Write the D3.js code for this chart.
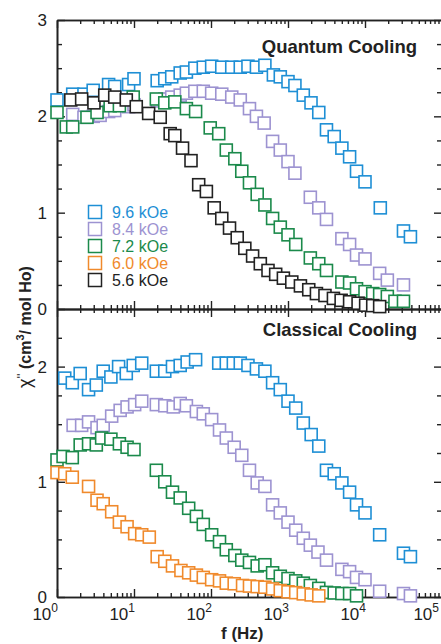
<!DOCTYPE html>
<html><head><meta charset="utf-8">
<script src="https://cdn.jsdelivr.net/npm/d3@7"></script>
<style>
body{margin:0;background:#fff;}
svg{display:block;font-family:"Liberation Sans",Arial,Helvetica,sans-serif;}
</style>
</head><body>
<svg id="chart" width="441" height="644"></svg>
<script>
// ---------- DATA ----------
const seriesNames = ["9.6 kOe", "8.4 kOe", "7.2 kOe", "6.0 kOe", "5.6 kOe"];
const xDecades = [1, 10, 100, 1000, 10000, 100000];
const xDecadeExp = ["0", "1", "2", "3", "4", "5"];
const yTicksTop = [0, 1, 2, 3];
const yTicksBottom = [0, 1, 2];
const panelTitles = ["Quantum Cooling", "Classical Cooling"];

// Quantum cooling: [frequency (Hz), chi'' (cm3/mol Ho)]
const quantum96 = [[1.0,2.17],[1.6,2.23],[2.24,2.23],[2.95,2.27],[4.68,2.33],[5.62,2.31],[8.51,2.33],[10,2.39],[20,2.37],[25.1,2.39],[30.9,2.41],[39.8,2.45],[47.9,2.46],[61.7,2.50],[79.4,2.51],[102,2.52],[138,2.51],[186,2.51],[240,2.51],[302,2.52],[389,2.51],[501,2.53],[646,2.43],[794,2.41],[1000,2.36],[1230,2.32],[1580,2.22],[1990,2.14],[2510,2.04],[3160,1.86],[3980,1.79],[5010,1.67],[6310,1.58],[7760,1.43],[10000,1.32],[15800,1.05],[31600,0.81],[38900,0.75]];
const quantum84 = [[1.6,2.02],[2.24,1.99],[2.95,2.0],[3.63,2.01],[4.68,2.05],[5.62,2.06],[8.51,2.1],[10,2.12],[20,2.16],[25.1,2.18],[30.9,2.2],[39.8,2.22],[47.9,2.24],[61.7,2.26],[79.4,2.26],[102,2.24],[138,2.23],[186,2.2],[240,2.17],[316,2.08],[389,2.0],[490,1.93],[631,1.74],[794,1.65],[1000,1.53],[1230,1.41],[1950,1.16],[2510,1.05],[3160,0.93],[5010,0.73],[6310,0.67],[7760,0.56],[10000,0.52],[15500,0.37],[19500,0.30],[31600,0.25]];
const quantum72 = [[1.0,2.04],[1.32,1.89],[1.6,1.89],[2.45,1.99],[3.31,2.04],[4.9,2.11],[6.46,2.11],[9.77,2.2],[19.5,2.18],[25.1,2.14],[33.9,2.15],[47.9,2.08],[63.1,2.05],[97.7,1.88],[126,1.82],[158,1.65],[204,1.56],[251,1.43],[316,1.31],[398,1.19],[501,1.08],[631,0.94],[794,0.85],[1000,0.77],[1260,0.67],[1950,0.53],[2510,0.47],[3160,0.40],[5010,0.28],[6310,0.27],[7760,0.21],[10000,0.18],[12600,0.16],[15500,0.15],[19500,0.13],[24500,0.08],[31600,0.08]];
const quantum56 = [[1.51,2.17],[2.09,2.18],[3.02,2.14],[4.17,2.22],[5.62,2.2],[7.94,2.17],[10.7,2.1],[15.5,2.03],[21.9,1.99],[29.5,1.82],[33.9,1.8],[42.7,1.67],[55,1.54],[69.2,1.29],[87.1,1.22],[110,1.05],[138,0.94],[174,0.84],[219,0.74],[275,0.63],[347,0.55],[437,0.47],[550,0.40],[692,0.36],[871,0.32],[1120,0.28],[1450,0.24],[1860,0.20],[2340,0.16],[3020,0.14],[3890,0.11],[4900,0.09],[6310,0.075],[8130,0.06],[10200,0.04],[12600,0.035],[15500,0.025]];

// Classical cooling
const classical96 = [[1.26,1.90],[1.58,1.86],[2.0,1.94],[2.57,1.80],[3.24,1.84],[3.98,1.96],[5.01,1.91],[6.31,2.0],[7.94,1.94],[9.77,2.01],[12.6,2.03],[19.5,1.96],[25.1,1.96],[31.6,2.0],[39.8,2.01],[49,2.04],[63.1,2.06],[126,2.03],[158,2.03],[195,2.03],[240,2.03],[302,2.01],[389,1.98],[501,1.96],[631,1.86],[794,1.80],[1000,1.70],[1260,1.64],[1580,1.51],[2000,1.41],[2510,1.31],[3160,1.10],[3980,1.07],[5010,0.99],[6310,0.91],[7760,0.80],[10000,0.73],[15500,0.54],[31600,0.38],[38900,0.35]];
const classical84 = [[1.62,1.49],[2.09,1.49],[2.57,1.52],[3.31,1.47],[3.98,1.49],[5.13,1.57],[6.61,1.62],[8.13,1.65],[10.2,1.67],[12.6,1.70],[19.5,1.67],[25.1,1.66],[32.4,1.65],[39.8,1.68],[47.9,1.66],[64.6,1.61],[79.4,1.59],[102,1.54],[129,1.45],[158,1.38],[200,1.30],[251,1.23],[316,1.10],[398,0.99],[501,0.96],[631,0.80],[794,0.73],[1000,0.65],[1260,0.58],[1580,0.51],[1950,0.45],[2450,0.39],[3160,0.32],[5010,0.24],[6310,0.22],[7760,0.17],[10000,0.15],[15500,0.05],[31600,0.03],[38900,0.01]];
const classical72 = [[1.0,1.19],[1.2,1.22],[1.58,1.21],[2.0,1.32],[2.57,1.33],[3.24,1.32],[3.8,1.38],[5.01,1.37],[6.46,1.33],[8.13,1.30],[10,1.28],[19.5,1.10],[25.1,1.0],[31.6,0.91],[39.8,0.86],[51.3,0.77],[64.6,0.70],[79.4,0.63],[102,0.54],[129,0.48],[158,0.41],[204,0.36],[251,0.32],[316,0.30],[398,0.27],[501,0.28],[631,0.21],[794,0.18],[1000,0.16],[1260,0.14],[1580,0.12],[1950,0.10],[2510,0.075],[3160,0.04],[3980,0.035],[5010,0.03],[6310,0.03],[7760,0.01]];
const classical60 = [[1.0,1.08],[1.26,1.07],[1.58,1.04],[2.57,0.96],[3.31,0.84],[3.98,0.81],[5.13,0.74],[6.46,0.65],[8.13,0.61],[10.2,0.55],[12.6,0.54],[15.8,0.52],[20,0.35],[25.1,0.31],[31.6,0.27],[40.7,0.23],[51.3,0.21],[64.6,0.19],[79.4,0.17],[102,0.15],[129,0.14],[158,0.12],[200,0.115],[257,0.10],[316,0.095],[398,0.09],[501,0.085],[631,0.07],[794,0.055],[1000,0.045],[1260,0.038],[1580,0.027],[2000,0.018],[2510,0.01]];

// ---------- STYLE ----------
const colors = {"9.6 kOe":"#1e8fd5","8.4 kOe":"#9d93d1","7.2 kOe":"#1b8a4b","6.0 kOe":"#f08a2c","5.6 kOe":"#222222"};
const axisColor = "#222";

const svg = d3.select("#chart");
svg.append("rect").attr("width",441).attr("height",644).attr("fill","#fff");

const x = d3.scaleLog().domain([1, 1e5]).range([57, 442]);
const yTop = d3.scaleLinear().domain([0, 3]).range([309, 20]);
const yBot = d3.scaleLinear().domain([0, 2.5]).range([597, 309]);

const minorX = x.ticks().filter(v => !xDecades.includes(v));

function styleAxis(g){
  g.selectAll("path,line").attr("stroke", axisColor).attr("stroke-width", 1.4);
  g.select(".domain").attr("stroke-width", 1.6);
}

function drawXAxes(ypos, which){
  const axisFn = which === "top" ? d3.axisTop : d3.axisBottom;
  const gMin = svg.append("g").attr("transform", `translate(0,${ypos})`)
    .call(axisFn(x).tickValues(minorX).tickSize(-4).tickSizeOuter(0).tickFormat(""));
  styleAxis(gMin);
  const gMaj = svg.append("g").attr("transform", `translate(0,${ypos})`)
    .call(axisFn(x).tickValues(xDecades).tickSize(-8).tickSizeOuter(0).tickFormat(""));
  styleAxis(gMaj);
}

function minorY(max){
  return d3.range(0.25, max, 0.25).filter(v => Math.abs(v - Math.round(v)) > 1e-6);
}

function drawYAxes(scale, majors, max){
  const minors = minorY(max);
  const gl1 = svg.append("g").attr("transform","translate(57,0)")
    .call(d3.axisLeft(scale).tickValues(minors).tickSize(-5).tickSizeOuter(0).tickFormat(""));
  styleAxis(gl1);
  const gl2 = svg.append("g").attr("transform","translate(57,0)")
    .call(d3.axisLeft(scale).tickValues(majors).tickSize(-8).tickSizeOuter(0).tickPadding(10).tickFormat(d3.format("d")));
  styleAxis(gl2);
  gl2.selectAll("text").attr("font-size", 17).attr("fill", axisColor)
     .attr("font-family", '"Liberation Sans",Arial,sans-serif');
  const gr1 = svg.append("g").attr("transform","translate(442,0)")
    .call(d3.axisRight(scale).tickValues(minors).tickSize(-5).tickSizeOuter(0).tickFormat(""));
  styleAxis(gr1);
  const gr2 = svg.append("g").attr("transform","translate(442,0)")
    .call(d3.axisRight(scale).tickValues(majors).tickSize(-8).tickSizeOuter(0).tickFormat(""));
  styleAxis(gr2);
}

drawXAxes(20, "top");
drawXAxes(309, "bottom");
drawXAxes(309, "top");
drawXAxes(597, "bottom");
drawYAxes(yTop, yTicksTop, 3);
drawYAxes(yBot, yTicksBottom, 2.5);

// x tick labels with superscripts (last one kept inside the window)
const xl = svg.append("g").selectAll("text").data(xDecades).join("text")
  .attr("x", d => Math.min(x(d) + 1, 439)).attr("y", 620)
  .attr("text-anchor", "end").attr("font-size", 17).attr("fill", axisColor);
xl.append("tspan").text("10");
xl.append("tspan").attr("font-size", 12).attr("dy", -8).text((d,i) => xDecadeExp[i]);

// axis titles
svg.append("text").attr("x", 221).attr("y", 639).attr("font-size", 17)
  .attr("font-weight", "bold").attr("fill", axisColor).text("f (Hz)");

const yl = svg.append("text")
  .attr("transform", "translate(31,327) rotate(-90)")
  .attr("text-anchor", "middle").attr("font-size", 16).attr("fill", axisColor);
yl.append("tspan").attr("font-size", 18).text("\u03C7");
yl.append("tspan").attr("font-size", 13).attr("dy", -5).text("''");
yl.append("tspan").attr("dy", 5).attr("font-weight", "bold").text(" (cm");
yl.append("tspan").attr("font-weight", "bold").attr("font-size", 11).attr("dy", -7).text("3");
yl.append("tspan").attr("font-weight", "bold").attr("dy", 7).text("/ mol Ho)");

// panel titles
svg.append("text").attr("x", 417).attr("y", 53).attr("text-anchor", "end")
  .attr("font-size", 18.5).attr("font-weight", "bold").attr("fill", axisColor).text(panelTitles[0]);
svg.append("text").attr("x", 417).attr("y", 336).attr("text-anchor", "end")
  .attr("font-size", 18.5).attr("font-weight", "bold").attr("fill", axisColor).text(panelTitles[1]);

// markers
const S = 12;
function drawSeries(data, name, yScale){
  svg.append("g").selectAll("rect").data(data).join("rect")
    .attr("x", d => x(d[0]) - S/2).attr("y", d => yScale(d[1]) - S/2)
    .attr("width", S).attr("height", S)
    .attr("fill", "#fff").attr("stroke", colors[name]).attr("stroke-width", 1.6);
}
drawSeries(quantum96, "9.6 kOe", yTop);
drawSeries(quantum84, "8.4 kOe", yTop);
drawSeries(quantum72, "7.2 kOe", yTop);
drawSeries(quantum56, "5.6 kOe", yTop);

drawSeries(classical96, "9.6 kOe", yBot);
drawSeries(classical84, "8.4 kOe", yBot);
drawSeries(classical72, "7.2 kOe", yBot);
drawSeries(classical60, "6.0 kOe", yBot);

// legend
const ly = d3.scalePoint().domain(seriesNames).range([212, 280]);
const lg = svg.append("g").selectAll("g").data(seriesNames).join("g")
  .attr("transform", d => `translate(95,${ly(d)})`);
lg.append("rect").attr("x", -6.5).attr("y", -6.5).attr("width", 13).attr("height", 13)
  .attr("fill", "#fff").attr("stroke", d => colors[d]).attr("stroke-width", 1.5);
lg.append("text").attr("x", 17).attr("y", 6).attr("font-size", 16)
  .attr("fill", d => colors[d]).text(d => d);
</script>
</body></html>
